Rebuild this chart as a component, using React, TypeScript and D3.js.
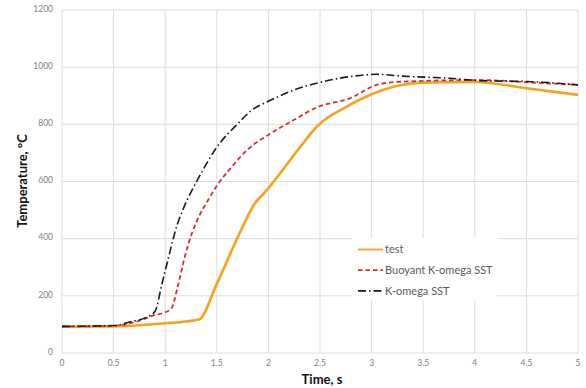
import * as d3 from 'd3';

const testTime = [0, 0.5, 0.75, 1.0, 1.2, 1.33, 1.5, 1.72, 1.87, 1.95, 2.0, 2.1, 2.2, 2.3, 2.48, 2.75, 3.0, 3.25, 3.5, 4.0, 4.5, 5.0];
const testTemp = [92, 93, 97, 104, 110, 118, 242, 418, 524, 556, 577, 622, 670, 717, 796, 860, 905, 935, 946, 948, 926, 903];

const buoyTime = [0, 0.5, 0.75, 0.9, 1.0, 1.06, 1.12, 1.19, 1.26, 1.33, 1.4, 1.5, 1.63, 1.79, 2.02, 2.24, 2.48, 2.79, 3.05, 3.28, 4.05, 4.56, 5.0];
const buoyTemp = [93, 95, 113, 133, 142, 156, 230, 337, 420, 480, 525, 585, 645, 709, 768, 814, 861, 891, 938, 949, 955, 946, 938];

const kTime = [0, 0.5, 0.69, 0.8, 0.9, 0.97, 1.05, 1.1, 1.17, 1.26, 1.35, 1.5, 1.72, 1.82, 2.02, 2.24, 2.48, 2.79, 3.05, 3.28, 3.76, 4.05, 4.56, 5.0];
const kTemp = [93, 96, 112, 122, 145, 244, 360, 430, 500, 570, 630, 720, 808, 844, 884, 919, 945, 967, 975, 969, 961, 953, 949, 938];

const xTicks = [0, 0.5, 1, 1.5, 2, 2.5, 3, 3.5, 4, 4.5, 5];
const yTicks = [0, 200, 400, 600, 800, 1000, 1200];

const seriesNames = ['test', 'Buoyant K-omega SST', 'K-omega SST'];

const width = 586;
const height = 388;

export default function App() {
  const x = d3.scaleLinear().domain([0, 5]).range([62, 578]);
  const y = d3.scaleLinear().domain([0, 1200]).range([353, 10]);

  const line = d3
    .line<[number, number]>()
    .x((d) => x(d[0]))
    .y((d) => y(d[1]))
    .curve(d3.curveMonotoneX);

  const zip = (a: number[], b: number[]) => a.map((t, i) => [t, b[i]] as [number, number]);

  const series = [
    { name: seriesNames[0], d: line(zip(testTime, testTemp)) ?? '', color: '#F5A21C', w: 2.6, dash: undefined, legendW: 1.8 },
    { name: seriesNames[1], d: line(zip(buoyTime, buoyTemp)) ?? '', color: '#DD2A30', w: 1.8, dash: '4.5,3', legendW: 1.8 },
    { name: seriesNames[2], d: line(zip(kTime, kTemp)) ?? '', color: '#1a1a1a', w: 1.6, dash: '8,3,1.5,3', legendW: 1.8 },
  ];

  const font = 'Lato, "Open Sans", sans-serif';

  return (
    <svg
      width={width}
      height={height}
      style={{ position: 'absolute', left: 0, top: 0, background: '#fff' }}
      fontFamily={font}
    >
      {/* grid */}
      <g stroke='#dcdcdc' strokeWidth={1}>
        {xTicks.map((t) => (
          <line key={'gx' + t} x1={x(t)} x2={x(t)} y1={y(1200)} y2={y(0)} />
        ))}
        {yTicks.map((t) => (
          <line key={'gy' + t} x1={x(0)} x2={x(5)} y1={y(t)} y2={y(t)} />
        ))}
      </g>

      {/* tick labels */}
      <g fill='#808080' fontSize={8.5}>
        {yTicks.map((t) => (
          <text key={'ly' + t} x={53} y={y(t) - 1} dy='0.32em' textAnchor='end'>
            {t}
          </text>
        ))}
        {xTicks.map((t) => (
          <text key={'lx' + t} x={x(t)} y={366} textAnchor='middle'>
            {t}
          </text>
        ))}
      </g>

      {/* curves */}
      {series.map((s) => (
        <path
          key={s.name}
          d={s.d}
          fill='none'
          stroke={s.color}
          strokeWidth={s.w}
          strokeDasharray={s.dash}
          strokeLinejoin='round'
        />
      ))}

      {/* legend */}
      <rect x={352} y={238} width={145} height={62} fill='#fff' />
      {series.map((s, i) => {
        const ly = 249.5 + i * 20.7;
        return (
          <g key={'lg' + s.name}>
            <line
              x1={358}
              x2={383}
              y1={ly}
              y2={ly}
              stroke={s.color}
              strokeWidth={s.legendW}
              strokeDasharray={s.dash}
            />
            <text x={385} y={ly} dy='0.35em' fontSize={11} fill='#595959'>
              {s.name}
            </text>
          </g>
        );
      })}

      {/* axis titles */}
      <text x={322} y={384} textAnchor='middle' fontSize={13} fontWeight='bold' fill='#111'>
        Time, s
      </text>
      <text
        transform={`translate(27,181) rotate(-90)`}
        textAnchor='middle'
        fontSize={13}
        fontWeight='bold'
        fill='#111'
      >
        Temperature, °C
      </text>
    </svg>
  );
}
